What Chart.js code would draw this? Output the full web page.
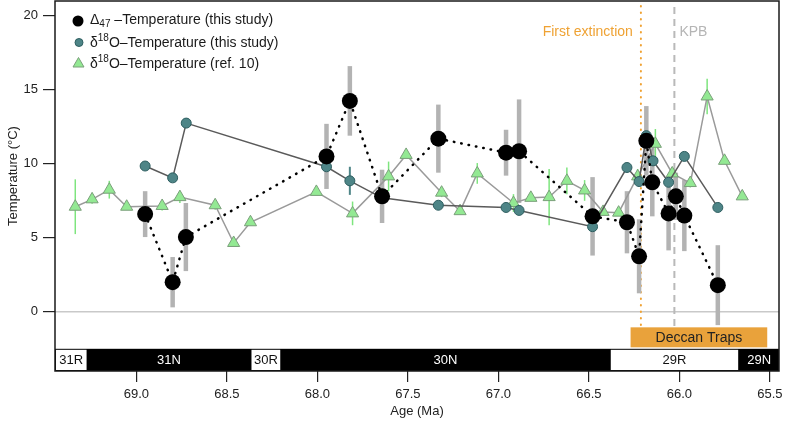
<!DOCTYPE html>
<html>
<head>
<meta charset="utf-8">
<script src="https://cdn.jsdelivr.net/npm/chart.js@4.4.1/dist/chart.umd.min.js"></script>
<style>
  html, body { margin: 0; padding: 0; background: #fff; }
  #wrap { width: 788px; height: 422px; position: relative; }
</style>
</head>
<body>
<div id="wrap"><canvas id="chart"></canvas></div>
<script>
// ===============================
// Datos
// ===============================
// Δ47 - temperatura (este estudio)
const d47Age  = [68.952, 68.80, 68.727, 67.95, 67.821, 67.643, 67.332, 66.958, 66.886, 66.48, 66.29, 66.223, 66.183, 66.15, 66.06, 66.02, 65.973, 65.788];
const d47Temp = [6.6, 2.0, 5.05, 10.5, 14.25, 7.8, 11.7, 10.75, 10.85, 6.45, 6.05, 3.75, 11.55, 8.75, 6.65, 7.8, 6.5, 1.8];
const d47Err  = [1.55, 1.7, 2.3, 2.2, 2.35, 1.8, 2.3, 1.55, 3.5, 2.65, 2.1, 2.5, 2.35, 2.3, 2.5, 1.6, 2.4, 2.7];

// δ18O - temperatura (este estudio)
const o18Age  = [68.952, 68.80, 68.725, 67.95, 67.821, 67.643, 67.332, 66.958, 66.886, 66.48, 66.29, 66.223, 66.183, 66.146, 66.06, 65.973, 65.788];
const o18Temp = [9.85, 9.05, 12.75, 9.8, 8.85, 7.7, 7.2, 7.05, 6.85, 5.75, 9.75, 8.8, 11.9, 10.2, 8.75, 10.5, 7.05];
const o18Err  = [0, 0, 0, 0, 0.95, 0, 0, 0, 0, 0, 0, 0, 0, 0, 0, 0, 0];

// δ18O - temperatura (ref. 10)
const refAge  = [69.338, 69.245, 69.15, 69.054, 68.858, 68.76, 68.565, 68.463, 68.37, 68.006, 67.806, 67.607, 67.51, 67.314, 67.212, 67.117, 66.917, 66.821, 66.72, 66.622, 66.524, 66.422, 66.336, 66.231, 66.133, 66.04, 65.94, 65.847, 65.751, 65.653];
const refTemp = [7.1, 7.6, 8.25, 7.1, 7.15, 7.75, 7.2, 4.65, 6.05, 8.1, 6.65, 9.15, 10.6, 8.05, 6.8, 9.35, 7.35, 7.7, 7.75, 8.85, 8.2, 6.75, 6.7, 9.15, 11.35, 9.35, 8.7, 14.55, 10.2, 7.8];
const refErr  = [1.85, 0.3, 0.6, 0.2, 0.3, 0.4, 0.3, 0.2, 0.2, 0.2, 0.8, 1.0, 0.2, 0.3, 0.2, 0.7, 0.6, 0.2, 1.9, 0.9, 0.7, 0.2, 0.2, 0.5, 1.0, 0.3, 0.3, 1.2, 0.2, 0.2];

// Ejes
const xTicks = [69.0, 68.5, 68.0, 67.5, 67.0, 66.5, 66.0, 65.5];
const yTicks = [0, 5, 10, 15, 20];

// Magnetocronos (de más antiguo a más reciente)
const chronNames = ['31R', '31N', '30R', '30N', '29R', '29N'];
const chronOld   = [69.45, 69.27, 68.37, 68.20, 66.385, 65.67];
const chronYoung = [69.27, 68.37, 68.20, 66.385, 65.67, 65.45];

// Eventos
const deccanOld = 66.27, deccanYoung = 65.515;
const firstExtinction = 66.213;
const kpb = 66.028;

const FONT = '"Liberation Sans", Arial, Helvetica, sans-serif';
const ORANGE = '#EFA233';

function toPoints(ages, temps) {
  return ages.map((a, i) => ({ x: a, y: temps[i] }));
}

// Barras de error, líneas de referencia y bandas inferiores
const underlayPlugin = {
  id: 'underlay',
  beforeDatasetsDraw(chart) {
    const { ctx, chartArea: area, scales: { x, y } } = chart;
    ctx.save();
    ctx.beginPath();
    ctx.rect(area.left, area.top, area.right - area.left, area.bottom - area.top);
    ctx.clip();

    // línea de cero
    ctx.strokeStyle = '#c9c9c9';
    ctx.lineWidth = 1.5;
    ctx.beginPath();
    ctx.moveTo(area.left, y.getPixelForValue(0));
    ctx.lineTo(area.right, y.getPixelForValue(0));
    ctx.stroke();

    // primera extinción (punteada naranja)
    ctx.strokeStyle = ORANGE;
    ctx.lineWidth = 2;
    ctx.lineCap = 'round';
    ctx.setLineDash([0.5, 6]);
    ctx.beginPath();
    ctx.moveTo(x.getPixelForValue(firstExtinction), area.top + 5);
    ctx.lineTo(x.getPixelForValue(firstExtinction), y.getPixelForValue(-1));
    ctx.stroke();

    // KPB (discontinua gris)
    ctx.strokeStyle = '#b9b9b9';
    ctx.lineCap = 'butt';
    ctx.setLineDash([7, 5]);
    ctx.beginPath();
    ctx.moveTo(x.getPixelForValue(kpb), area.top + 6);
    ctx.lineTo(x.getPixelForValue(kpb), y.getPixelForValue(-1));
    ctx.stroke();
    ctx.setLineDash([]);

    ctx.font = '14px ' + FONT;
    ctx.textBaseline = 'middle';
    ctx.fillStyle = ORANGE;
    ctx.textAlign = 'right';
    ctx.fillText('First extinction', x.getPixelForValue(firstExtinction) - 8, 32);
    ctx.fillStyle = '#b5b5b5';
    ctx.textAlign = 'left';
    ctx.fillText('KPB', x.getPixelForValue(kpb) + 5, 32);

    // barras de error
    function bars(ages, temps, errs, color, width) {
      ctx.strokeStyle = color;
      ctx.lineWidth = width;
      ages.forEach((a, i) => {
        if (!errs[i]) return;
        const px = x.getPixelForValue(a);
        ctx.beginPath();
        ctx.moveTo(px, y.getPixelForValue(temps[i] - errs[i]));
        ctx.lineTo(px, y.getPixelForValue(temps[i] + errs[i]));
        ctx.stroke();
      });
    }
    bars(d47Age, d47Temp, d47Err, '#b3b3b3', 4.5);
    bars(refAge, refTemp, refErr, '#7ee57e', 1.5);
    bars(o18Age, o18Temp, o18Err, '#4e8587', 2);

    // Deccan Traps
    const dx0 = x.getPixelForValue(deccanOld);
    const dx1 = x.getPixelForValue(deccanYoung);
    const dy0 = y.getPixelForValue(-1.05);
    const dy1 = y.getPixelForValue(-2.4);
    ctx.fillStyle = '#E9A23B';
    ctx.fillRect(dx0, dy0, dx1 - dx0, dy1 - dy0);
    ctx.fillStyle = '#222';
    ctx.textAlign = 'center';
    ctx.font = '14px ' + FONT;
    ctx.fillText('Deccan Traps', (dx0 + dx1) / 2, (dy0 + dy1) / 2 + 1);

    // barra de polaridad
    const by0 = y.getPixelForValue(-2.5);
    const by1 = area.bottom;
    ctx.fillStyle = '#000';
    ctx.fillRect(area.left, by0, area.right - area.left, by1 - by0);
    ctx.font = '13px ' + FONT;
    chronNames.forEach((name, i) => {
      const cx0 = x.getPixelForValue(chronOld[i]);
      const cx1 = x.getPixelForValue(chronYoung[i]);
      const reversed = name.endsWith('R');
      if (reversed) {
        ctx.fillStyle = '#fff';
        ctx.fillRect(cx0 + 1, by0 + 1, cx1 - cx0 - 2, by1 - by0 - 2);
      }
      ctx.fillStyle = reversed ? '#111' : '#fff';
      ctx.fillText(name, (cx0 + cx1) / 2, (by0 + by1) / 2 + 1);
    });
    ctx.restore();
  }
};

// Leyenda con subíndices y superíndices
function drawRich(ctx, x, y, parts) {
  ctx.textBaseline = 'middle';
  ctx.textAlign = 'left';
  ctx.fillStyle = '#1a1a1a';
  parts.forEach(([t, kind]) => {
    if (kind) {
      ctx.font = '10px ' + FONT;
      ctx.fillText(t, x, y + (kind === 'sub' ? 4 : -5));
    } else {
      ctx.font = '14px ' + FONT;
      ctx.fillText(t, x, y);
    }
    x += ctx.measureText(t).width;
  });
}

const overlayPlugin = {
  id: 'overlay',
  afterDraw(chart) {
    const { ctx, chartArea: area } = chart;
    ctx.save();
    // marco
    ctx.strokeStyle = '#1a1a1a';
    ctx.lineWidth = 1.5;
    ctx.strokeRect(area.left, area.top, area.right - area.left, area.bottom - area.top);

    // título del eje Y
    ctx.translate(13, 176);
    ctx.rotate(-Math.PI / 2);
    ctx.font = '13px ' + FONT;
    ctx.fillStyle = '#222';
    ctx.textAlign = 'center';
    ctx.textBaseline = 'middle';
    ctx.fillText('Temperature (°C)', 0, 0);
    ctx.setTransform(1, 0, 0, 1, 0, 0);

    // marcadores de la leyenda
    ctx.fillStyle = '#000';
    ctx.beginPath();
    ctx.arc(78, 21, 5.5, 0, Math.PI * 2);
    ctx.fill();

    ctx.fillStyle = '#4e8587';
    ctx.strokeStyle = '#2e5e60';
    ctx.lineWidth = 1;
    ctx.beginPath();
    ctx.arc(79, 42.5, 4, 0, Math.PI * 2);
    ctx.fill();
    ctx.stroke();

    ctx.fillStyle = '#93e993';
    ctx.strokeStyle = '#7a9f7a';
    ctx.beginPath();
    ctx.moveTo(78.5, 57.5);
    ctx.lineTo(84, 67);
    ctx.lineTo(73, 67);
    ctx.closePath();
    ctx.fill();
    ctx.stroke();

    drawRich(ctx, 90, 20, [['Δ'], ['47', 'sub'], [' \u2013Temperature (this study)']]);
    drawRich(ctx, 90, 43, [['δ'], ['18', 'sup'], ['O\u2013Temperature (this study)']]);
    drawRich(ctx, 90, 64, [['δ'], ['18', 'sup'], ['O\u2013Temperature (ref. 10)']]);
    ctx.restore();
  }
};

const ctx = document.getElementById('chart').getContext('2d');
const chart = new Chart(ctx, {
  type: 'scatter',
  data: {
    datasets: [
      {
        label: 'Δ47-Temperature (this study)',
        data: toPoints(d47Age, d47Temp),
        showLine: true,
        borderColor: '#000',
        borderWidth: 2.5,
        borderDash: [0.5, 7],
        borderCapStyle: 'round',
        pointRadius: 8,
        pointBackgroundColor: '#000',
        pointBorderColor: '#000',
        pointBorderWidth: 0
      },
      {
        label: 'δ18O-Temperature (this study)',
        data: toPoints(o18Age, o18Temp),
        showLine: true,
        borderColor: '#5a5a5a',
        borderWidth: 1.5,
        pointRadius: 5,
        pointBackgroundColor: '#4e8587',
        pointBorderColor: '#2e5e60',
        pointBorderWidth: 1
      },
      {
        label: 'δ18O-Temperature (ref. 10)',
        data: toPoints(refAge, refTemp),
        showLine: true,
        borderColor: '#9a9a9a',
        borderWidth: 1.5,
        pointStyle: 'triangle',
        pointRadius: 7,
        pointBackgroundColor: '#93e993',
        pointBorderColor: '#7a9f7a',
        pointBorderWidth: 1
      }
    ]
  },
  options: {
    responsive: true,
    maintainAspectRatio: false,
    animation: false,
    events: [],
    layout: { autoPadding: false, padding: { top: 1, right: 9, left: 0, bottom: 0 } },
    plugins: {
      legend: { display: false },
      tooltip: { enabled: false }
    },
    scales: {
      x: {
        type: 'linear',
        reverse: true,
        min: 65.45,
        max: 69.45,
        afterBuildTicks: scale => { scale.ticks = xTicks.map(v => ({ value: v })); },
        afterFit: scale => {
          scale.height = 51;
          scale.paddingLeft = 0;
          scale.paddingRight = 0;
        },
        border: { display: false },
        grid: { drawOnChartArea: false, drawTicks: true, tickLength: 11, color: '#222', lineWidth: 1.2 },
        ticks: {
          font: { family: FONT, size: 13 },
          color: '#222',
          padding: 5,
          maxRotation: 0,
          callback: v => v.toFixed(1)
        },
        title: {
          display: true,
          text: 'Age (Ma)',
          font: { family: FONT, size: 13 },
          color: '#222',
          padding: { top: 0, bottom: 3 }
        }
      },
      y: {
        min: -4,
        max: 21,
        afterBuildTicks: scale => { scale.ticks = yTicks.map(v => ({ value: v })); },
        afterFit: scale => {
          scale.width = 55;
          scale.paddingTop = 0;
          scale.paddingBottom = 0;
        },
        border: { display: false },
        grid: { drawOnChartArea: false, drawTicks: true, tickLength: 12, color: '#222', lineWidth: 1.2 },
        ticks: {
          font: { family: FONT, size: 13 },
          color: '#222',
          padding: 5
        },
        title: { display: false }
      }
    }
  },
  plugins: [underlayPlugin, overlayPlugin]
});
</script>
</body>
</html>
